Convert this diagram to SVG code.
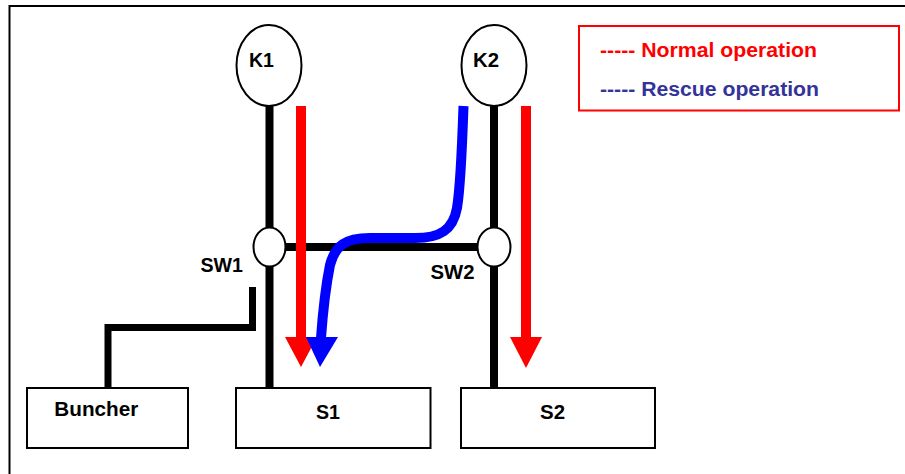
<svg xmlns="http://www.w3.org/2000/svg" width="905" height="474" viewBox="0 0 905 474">
  <style>
    .lbl { font-family: "Liberation Sans", Arial, sans-serif; font-weight: bold; font-size: 20px; fill: #000; }
    .node { fill: #fff; stroke: #000; stroke-width: 2; }
    .line { fill: none; stroke: #000; stroke-width: 8; }
    .normal { fill: #ff0000; }
    .rescue { fill: none; stroke: #0000ff; stroke-width: 10; stroke-linecap: butt; }
    .legend { font-family: "Liberation Sans", Arial, sans-serif; font-weight: bold; font-size: 20px; }
  </style>

  <rect width="905" height="474" fill="#fff"/>
  <!-- frame: top and left edges -->
  <path d="M9.5,474 V6 H905" fill="none" stroke="#000" stroke-width="2"/>

  <!-- beam lines -->
  <g id="connectors">
    <path class="line" d="M269.5,106 V228"/>
    <path class="line" d="M269.5,266 V388"/>
    <path class="line" d="M494,106 V228"/>
    <path class="line" d="M494,266 V388"/>
    <path class="line" d="M285,247 H478"/>
    <path class="line" style="stroke-width:7" d="M108,388 V327.5 H252.5 V287"/>
  </g>

  <g id="K1">
    <ellipse class="node" cx="269" cy="65.5" rx="32.5" ry="40.5"/>
    <text class="lbl" x="249" y="67" textLength="25" lengthAdjust="spacingAndGlyphs">K1</text>
  </g>
  <g id="K2">
    <ellipse class="node" cx="494" cy="65.5" rx="32.5" ry="40.5"/>
    <text class="lbl" x="473" y="67" textLength="26" lengthAdjust="spacingAndGlyphs">K2</text>
  </g>
  <g id="SW1">
    <ellipse class="node" cx="269.5" cy="247" rx="16" ry="19.5"/>
    <text class="lbl" x="200.5" y="272" textLength="42.5" lengthAdjust="spacingAndGlyphs">SW1</text>
  </g>
  <g id="SW2">
    <ellipse class="node" cx="494" cy="247" rx="16.5" ry="19.5"/>
    <text class="lbl" x="430.5" y="278.5" textLength="44" lengthAdjust="spacingAndGlyphs">SW2</text>
  </g>
  <g id="Buncher">
    <rect class="node" x="27" y="388" width="161" height="60"/>
    <text class="lbl" x="54.3" y="415.7" textLength="84" lengthAdjust="spacingAndGlyphs">Buncher</text>
  </g>
  <g id="S1">
    <rect class="node" x="236" y="388" width="194.5" height="60"/>
    <text class="lbl" x="316" y="418.5" textLength="24" lengthAdjust="spacingAndGlyphs">S1</text>
  </g>
  <g id="S2">
    <rect class="node" x="461" y="388" width="194" height="60"/>
    <text class="lbl" x="540" y="419" textLength="25" lengthAdjust="spacingAndGlyphs">S2</text>
  </g>

  <!-- operation paths -->
  <g id="flows">
    <rect class="normal" x="296" y="106" width="10" height="232"/>
    <polygon class="normal" points="285,337 317,337 301,367"/>
    <rect class="normal" x="521" y="106" width="10" height="232"/>
    <polygon class="normal" points="510,337 542,337 526,368"/>
    <path class="rescue" d="M463.5,106 C462,150 460,190 457,208 C453,230 440,238 415,238 L370,238 C345,238 335,246 330,265 C326,285 323,310 321,338"/>
    <polygon fill="#0000ff" points="306,337 338,337 320,367"/>
  </g>

  <g id="legend">
    <rect x="579" y="26" width="320" height="84.5" fill="#fff" stroke="#ff0000" stroke-width="2"/>
    <text class="legend" x="600" y="56.7" fill="#ff0000" textLength="217" lengthAdjust="spacingAndGlyphs">----- Normal operation</text>
    <text class="legend" x="600" y="96" fill="#333399" textLength="219" lengthAdjust="spacingAndGlyphs">----- Rescue operation</text>
  </g>
</svg>
